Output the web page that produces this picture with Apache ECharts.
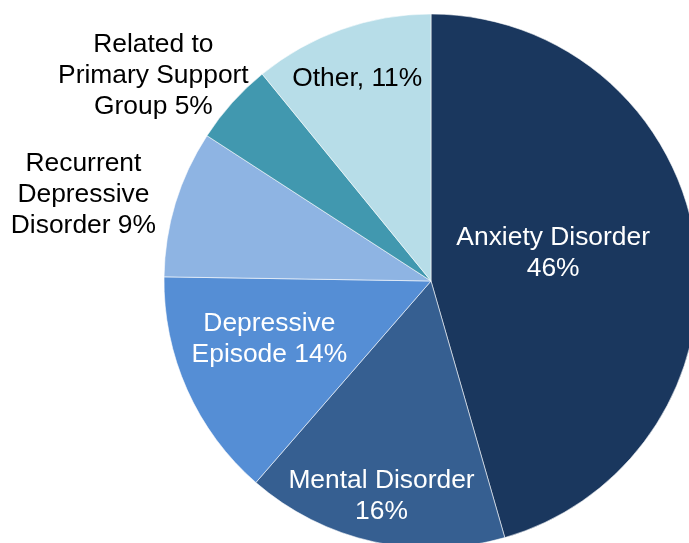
<!DOCTYPE html>
<html>
<head>
<meta charset="utf-8">
<script src="https://cdn.jsdelivr.net/npm/echarts@6/dist/echarts.min.js"></script>
<style>
  html, body { margin: 0; padding: 0; background: #ffffff; }
  #chart { width: 689px; height: 543px; }
</style>
</head>
<body>
<div id="chart"></div>
<script>
// Share of diagnoses, clockwise from 12 o'clock
const categories = [
  'Anxiety Disorder',
  'Mental Disorder',
  'Depressive Episode',
  'Recurrent Depressive Disorder',
  'Related to Primary Support Group',
  'Other'
];
const shares = [46, 16, 14, 9, 5, 11];

// Label wording; {v} is replaced by the slice value
const labelTemplates = [
  'Anxiety Disorder\n{v}%',
  'Mental Disorder\n{v}%',
  'Depressive\nEpisode {v}%',
  'Recurrent\nDepressive\nDisorder {v}%',
  'Related to\nPrimary Support\nGroup {v}%',
  'Other, {v}%'
];

const sliceColors = ['#1A375E', '#365F91', '#558ED5', '#8EB4E3', '#4198AF', '#B7DDE8'];
const labelColors = ['#ffffff', '#ffffff', '#ffffff', '#000000', '#000000', '#000000'];
// Shift of each label from its default inside position
const labelOffsets = [[-13, -9], [-20, 82], [-37, 3], [-217, -47], [-176, -114], [-28, -74]];

const chart = echarts.init(document.getElementById('chart'), null, { renderer: 'canvas' });

chart.setOption({
  animation: false,
  backgroundColor: '#ffffff',
  series: [{
    type: 'pie',
    center: [431, 281],
    radius: 267,
    startAngle: 90,
    clockwise: true,
    avoidLabelOverlap: false,
    emphasis: { disabled: true },
    itemStyle: { borderColor: 'rgba(255,255,255,0.7)', borderWidth: 0.8 },
    label: {
      show: true,
      position: 'inside',
      fontFamily: '"Liberation Sans", Arial, sans-serif',
      fontSize: 26.4,
      lineHeight: 31,
      align: 'center'
    },
    labelLine: { show: false },
    data: categories.map((name, i) => ({
      name: name,
      value: shares[i],
      itemStyle: { color: sliceColors[i] },
      label: {
        color: labelColors[i],
        offset: labelOffsets[i],
        formatter: labelTemplates[i].replace('{v}', shares[i])
      }
    }))
  }]
});
</script>
</body>
</html>
